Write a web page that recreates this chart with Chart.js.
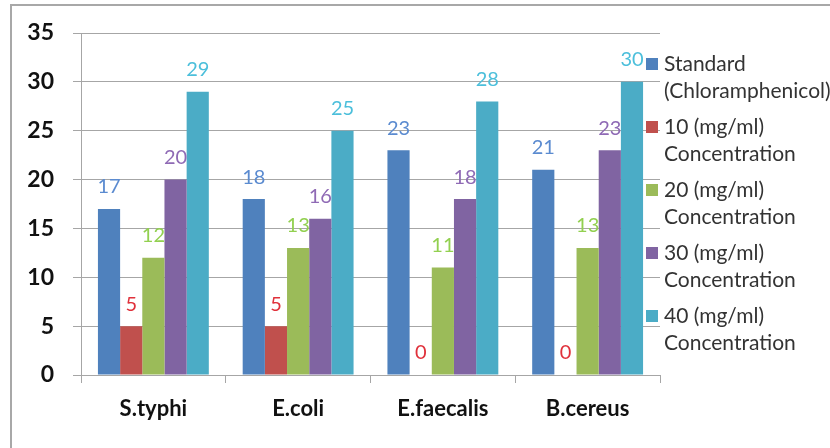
<!DOCTYPE html>
<html>
<head>
<meta charset="utf-8">
<script src="https://cdn.jsdelivr.net/npm/chart.js@4.4.1/dist/chart.umd.min.js"></script>
<style>
  html, body { margin: 0; padding: 0; background: #fff; }
  #wrap { position: relative; width: 830px; height: 448px; overflow: hidden; }
  #frame { position: absolute; left: 10px; top: 4px; width: 900px; height: 600px; border: 2px solid #a8a8a8; box-sizing: border-box; }
  canvas { position: absolute; left: 0; top: 0; }
</style>
</head>
<body>
<div id="wrap">
  <div id="frame"></div>
  <canvas id="chart" width="830" height="448"></canvas>
</div>
<script>
// Kategorier og serier
const categories = ['S.typhi', 'E.coli', 'E.faecalis', 'B.cereus'];
const standard = [17, 18, 23, 21];
const conc10 = [5, 5, 0, 0];
const conc20 = [12, 13, 11, 13];
const conc30 = [20, 16, 18, 23];
const conc40 = [29, 25, 28, 30];
const yTicks = [0, 5, 10, 15, 20, 25, 30, 35];

// Legend-tekst (to linjer pr. serie)
const seriesNames = [
    ['Standard', '(Chloramphenicol)'],
    ['10 (mg/ml)', 'Concentration'],
    ['20 (mg/ml)', 'Concentration'],
    ['30 (mg/ml)', 'Concentration'],
    ['40 (mg/ml)', 'Concentration']
];
const barColors = ['#4f81bd', '#c0504d', '#9bbb59', '#8064a2', '#4bacc6'];
const labelColors = ['#5b8bd0', '#e0313b', '#92d050', '#8f6ab5', '#4cbfdb'];

const seriesValues = [standard, conc10, conc20, conc30, conc40];

// Tegn værdier over søjlerne
const valueLabels = {
    id: 'valueLabels',
    afterDatasetsDraw(chart) {
        const ctx = chart.ctx;
        ctx.save();
        ctx.font = '20px Lato';
        ctx.textAlign = 'center';
        ctx.textBaseline = 'bottom';
        chart.data.datasets.forEach((ds, i) => {
            const meta = chart.getDatasetMeta(i);
            ctx.fillStyle = labelColors[i];
            meta.data.forEach((bar, j) => {
                ctx.fillText(String(ds.data[j]), bar.x, bar.y - 12);
            });
        });
        ctx.restore();
    }
};

// Egen legend til højre, oven i plotområdet
const sideLegend = {
    id: 'sideLegend',
    afterDraw(chart) {
        const ctx = chart.ctx;
        ctx.save();
        ctx.font = '21px Lato';
        ctx.textBaseline = 'middle';
        ctx.textAlign = 'left';
        seriesNames.forEach((lines, i) => {
            const y = 64 + i * 63;
            ctx.fillStyle = barColors[i];
            ctx.fillRect(646, y - 6, 12, 12);
            ctx.fillStyle = '#333';
            lines.forEach((t, k) => ctx.fillText(t, 664, y + k * 27));
        });
        ctx.restore();
    }
};

new Chart(document.getElementById('chart'), {
    type: 'bar',
    data: {
        labels: categories,
        datasets: seriesValues.map((vals, i) => ({
            label: seriesNames[i].join(' '),
            data: vals,
            backgroundColor: barColors[i],
            categoryPercentage: 0.766,
            barPercentage: 1.0
        }))
    },
    options: {
        responsive: false,
        animation: false,
        layout: { padding: { top: 33, right: 170, left: 0, bottom: 0 } },
        plugins: {
            legend: { display: false },
            tooltip: { enabled: false }
        },
        scales: {
            x: {
                afterFit: s => { s.height = 73; },
                grid: {
                    offset: true,
                    drawOnChartArea: false,
                    color: '#a6a6a6',
                    tickLength: 8
                },
                border: { color: '#a6a6a6', width: 1 },
                ticks: {
                    color: '#111',
                    font: { family: 'Lato', size: 22, weight: 'bold' },
                    padding: 13
                }
            },
            y: {
                min: 0,
                max: 35,
                afterFit: s => { s.width = 81; },
                afterBuildTicks: s => { s.ticks = yTicks.map(v => ({ value: v })); },
                grid: { color: '#a6a6a6', tickLength: 8 },
                border: { color: '#a6a6a6', width: 1 },
                ticks: {
                    color: '#111',
                    font: { family: 'Lato', size: 23, weight: 'bold' },
                    padding: 19
                }
            }
        }
    },
    plugins: [valueLabels, sideLegend]
});
</script>
</body>
</html>
